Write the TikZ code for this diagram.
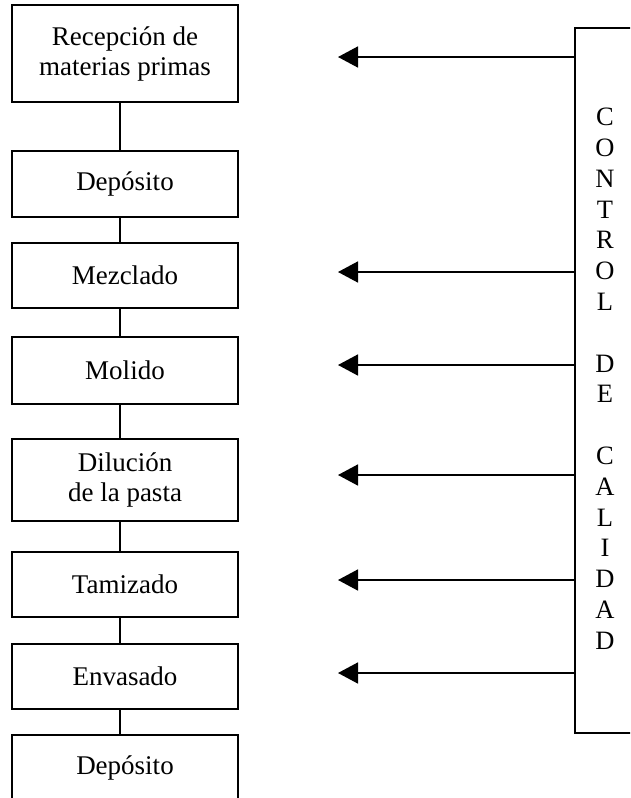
\documentclass[tikz,border=0pt]{standalone}
\usepackage{fontspec}
\setmainfont{Liberation Serif}
\usetikzlibrary{arrows.meta}
\begin{document}
\begin{tikzpicture}[x=1pt,y=-1pt,
  line width=1.6pt,
  stepbox/.style={draw, minimum width=226pt, inner sep=0pt, align=center,
    font=\fontsize{27}{30}\selectfont},
  link/.style={line width=1.6pt},
  ctrlarrow/.style={line width=1.6pt, -{Triangle[length=20pt,width=21pt]}},
  letter/.style={inner sep=0pt, font=\fontsize{26.5}{30}\selectfont}]
\useasboundingbox (0,0) rectangle (630,798);
\begin{scope}
\clip (0,0) rectangle (630,798);
% process steps
\node[stepbox, minimum height=97pt] (s1) at (125,53.5) {Recepción de\\materias primas};
\node[stepbox, minimum height=66pt] (s2) at (125,184) {Depósito};
\node[stepbox, minimum height=65pt] (s3) at (125,275.5) {Mezclado};
\node[stepbox, minimum height=67pt] (s4) at (125,370.5) {Molido};
\node[stepbox, minimum height=82pt] (s5) at (125,480) {Dilución\\de la pasta};
\node[stepbox, minimum height=65pt] (s6) at (125,584.5) {Tamizado};
\node[stepbox, minimum height=65pt] (s7) at (125,676.5) {Envasado};
\node[stepbox, minimum height=65pt] (s8) at (125,767.5) {Depósito};
% links between steps
\foreach \a/\b in {s1/s2,s2/s3,s3/s4,s4/s5,s5/s6,s6/s7,s7/s8}
  \draw[link] ([xshift=-5pt]\a.south) -- ([xshift=-5pt]\b.north);
% quality control bracket
\coordinate (bt) at (575,28);
\coordinate (bb) at (575,733);
\draw (640,28) -- (bt) -- (bb) -- (640,733);
% control arrows
\foreach \i/\y in {1/57,2/272,3/365,4/475,5/580,6/673}{
  \coordinate (c\i) at (575,\y);
  \coordinate (t\i) at (338,\y);
  \draw[ctrlarrow] (c\i) -- (t\i);
}
% vertical label
\foreach \ch [count=\k from 0] in {C,O,N,T,R,O,L,{},D,E,{},C,A,L,I,D,A,D}
  \node[letter] (l\k) at (605,117+30.8*\k) {\ch};
\end{scope}
\end{tikzpicture}
\end{document}
